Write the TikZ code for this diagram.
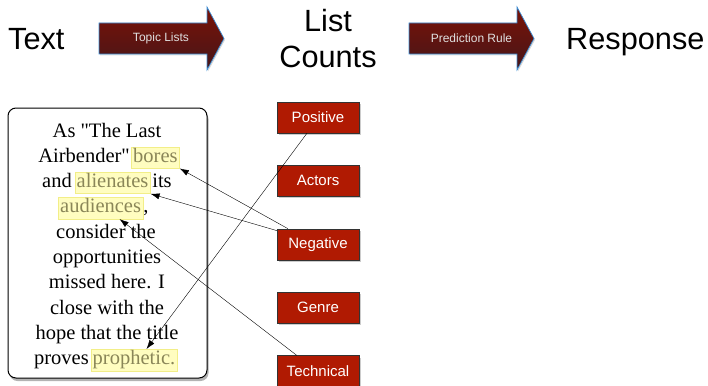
\documentclass[tikz,border=0pt]{standalone}
\usepackage{fontspec}
\setmainfont{Liberation Sans}
\newfontfamily\serif{Liberation Serif}
\usetikzlibrary{positioning,shadows,arrows.meta}
\definecolor{arrtop}{HTML}{7A1207}
\definecolor{arrbot}{HTML}{461619}
\definecolor{arredge}{HTML}{3A8FD8}
\definecolor{topicred}{HTML}{B01A02}
\definecolor{hlfill}{HTML}{FFFDC0}
\definecolor{hldraw}{HTML}{F2EE88}
\definecolor{hltext}{HTML}{8A8658}
\tikzset{
  head/.style={font=\fontsize{30.7}{36}\selectfont, inner sep=0pt},
  bigarrow/.style={top color=arrtop, bottom color=arrbot, draw=arredge, line width=.7pt,
    drop shadow={shadow xshift=1pt, shadow yshift=-1.5pt, opacity=.3}},
  arrlabel/.style={font=\fontsize{12}{12}\selectfont, text=black!12, inner sep=0pt},
  textbox/.style={draw, line width=1pt, fill=white, rounded corners=8pt,
    minimum width=199pt, minimum height=270pt,
    drop shadow={shadow xshift=1.5pt, shadow yshift=-3pt, opacity=.6}},
  para/.style={font=\serif\fontsize{20.5}{24}\selectfont, inner sep=0pt, text height=14pt, text depth=4.5pt},
  hl/.style={para, fill=hlfill, draw=hldraw, text=hltext, inner xsep=2pt, inner ysep=1.5pt},
  topic/.style={draw=black!80, fill=topicred, text=white, font=\fontsize{15}{15}\selectfont,
    minimum width=82pt, minimum height=31pt, inner sep=0pt,
    drop shadow={shadow xshift=1.5pt, shadow yshift=-2pt, opacity=.4}}
}
\begin{document}
\begin{tikzpicture}[x=1pt, y=-1pt, >={Latex[length=9pt,width=6pt]}]
\useasboundingbox (0,0) rectangle (708,385);
% header
\node[head, anchor=base west] (text) at (8,50) {Text};
\node[head, align=center, anchor=base] (counts) at (328,68) {List\\Counts};
\node[head, anchor=base west] (resp) at (566,50) {Response};
\shade[bigarrow] (99,23) -- (207,23) -- (207,7) -- (224,38.5) -- (207,70) -- (207,54) -- (99,54) -- cycle;
\node[arrlabel] (topics) at (161,38.5) {Topic Lists};
\shade[bigarrow] (409,23) -- (517,23) -- (517,7) -- (534,38.5) -- (517,70) -- (517,54) -- (409,54) -- cycle;
\node[arrlabel] (rule) at (471.5,38.5) {Prediction Rule};
% review text
\node[textbox] (box) at (107.5,243) {};
\node[para, anchor=base] (l1) at (107,137) {As "The Last};
\node[para, anchor=base east] (l2) at (130,162.3) {Airbender"};
\node[hl, anchor=base west] (bores) at ([xshift=1pt]l2.base east) {bores};
\node[para, anchor=base east] (l3) at (72,187.6) {and};
\node[hl, anchor=base west] (alien) at ([xshift=2.5pt]l3.base east) {alienates};
\node[para, anchor=base west] (l3b) at ([xshift=1.5pt]alien.base east) {its};
\node[hl, anchor=base west] (aud) at (58,212.9) {audiences};
\node[para, anchor=base west] (l4) at (aud.base east) {,};
\node[para, anchor=base] (l5) at (106,238.2) {consider the};
\node[para, anchor=base] (l6) at (107,263.5) {opportunities};
\node[para, anchor=base] (l7) at (107,288.8) {missed here. I};
\node[para, anchor=base] (l8) at (107,314.1) {close with the};
\node[para, anchor=base] (l9) at (107,339.4) {hope that the title};
\node[para, anchor=base east] (l10) at (89,364.7) {proves};
\node[hl, anchor=base west] (proph) at ([xshift=1.5pt]l10.base east) {prophetic.};
% topic lists
\node[topic] (pos) at (318,117.5) {Positive};
\node[topic, below=32pt of pos] (act) {Actors};
\node[topic, below=32pt of act] (neg) {Negative};
\node[topic, below=32pt of neg] (gen) {Genre};
\node[topic, below=32pt of gen] (tech) {Technical};
% links
\draw[->] ([xshift=-11pt]pos.south) -- ([xshift=56pt]proph.north west);
\draw[->] ([xshift=11pt]neg.north west) -- (bores.south east);
\draw[->] ([yshift=-2pt]neg.north west) -- (alien.south east);
\draw[->] ([xshift=20pt]tech.north west) -- ([xshift=19pt]aud.south);
\end{tikzpicture}
\end{document}
